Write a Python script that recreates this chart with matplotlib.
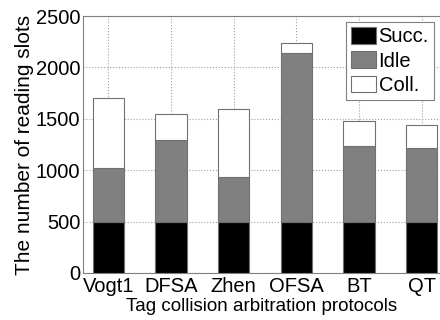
import matplotlib.pyplot as plt
import numpy as np

plt.rcParams['font.family'] = ['Liberation Sans', 'DejaVu Sans']

protocols = ['Vogt1', 'DFSA', 'Zhen', 'OFSA', 'BT', 'QT']
succ = [500, 500, 500, 500, 500, 500]
idle = [520, 795, 436, 1644, 740, 714]
coll = [687, 250, 657, 97, 237, 224]

x = np.arange(1, len(protocols) + 1)
succ_a, idle_a, coll_a = np.array(succ), np.array(idle), np.array(coll)

fig = plt.figure(figsize=(4.4, 3.2), dpi=100)
ax = fig.add_axes([0.189, 0.147, 0.811, 0.803])

edge = '#707070'
ax.bar(x, succ_a, 0.5, color='black', edgecolor=edge, linewidth=0.8, label='Succ.', zorder=3)
ax.bar(x, idle_a, 0.5, bottom=succ_a, color='#808080', edgecolor=edge, linewidth=0.8, label='Idle', zorder=3)
ax.bar(x, coll_a, 0.5, bottom=succ_a + idle_a, color='white', edgecolor=edge, linewidth=0.8, label='Coll.', zorder=3)

ax.set_xlim(0.6, 6.29)
ax.set_ylim(0, 2500)
ax.set_xticks(x)
ax.set_xticklabels(protocols)
ax.set_yticks([0, 500, 1000, 1500, 2000, 2500])
ax.tick_params(labelsize=14.5, length=0)
ax.tick_params(axis='x', pad=3)
ax.tick_params(axis='y', pad=2)
ax.grid(True, linestyle=':', color='#a0a0a0', linewidth=0.8, zorder=0)
for s in ['top', 'left', 'bottom']:
    ax.spines[s].set_color('#808080')
ax.spines['right'].set_visible(False)

ax.set_xlabel('Tag collision arbitration protocols', fontsize=13.5, labelpad=1.5)
ax.set_ylabel('The number of reading slots', fontsize=15, labelpad=1)

leg = ax.legend(loc='upper right', fontsize=14.5, fancybox=False, framealpha=1,
                edgecolor='#808080', handlelength=1.2, handleheight=0.9,
                handletextpad=0.15, borderpad=0.25, labelspacing=0.25,
                borderaxespad=0.3)
leg.get_frame().set_linewidth(0.8)

plt.savefig('out.png', dpi=100)
